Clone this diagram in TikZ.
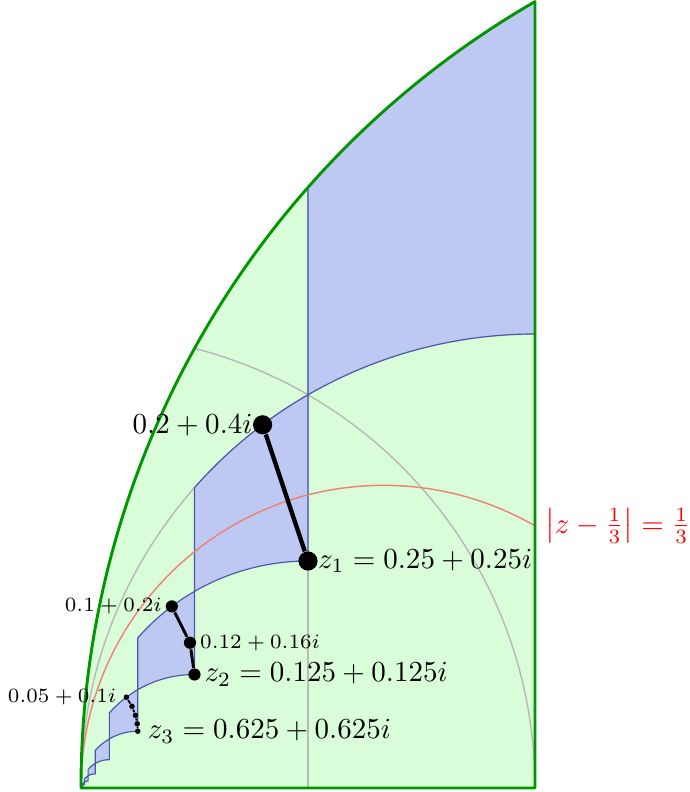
\documentclass[tikz,border=0pt]{standalone}
\usepackage{amsmath}
\usetikzlibrary{positioning}
\definecolor{zonegreen}{RGB}{217,253,216}
\definecolor{rimgreen}{RGB}{0,150,0}
\definecolor{cellblue}{RGB}{189,201,242}
\definecolor{celledge}{RGB}{75,88,170}
\definecolor{circred}{RGB}{238,130,120}
\begin{document}
\begin{tikzpicture}[
    scale=11,
    zone/.style    ={fill=zonegreen},
    rim/.style     ={draw=rimgreen, line width=1pt, line join=round},
    cell/.style    ={fill=cellblue, draw=celledge, line width=0.4pt},
    guide/.style   ={draw=gray!55, line width=0.5pt},
    redarc/.style  ={draw=circred, line width=0.5pt},
    bigdot/.style  ={circle, fill=black, inner sep=0pt, minimum size=6.6pt},
    middot/.style  ={circle, fill=black, inner sep=0pt, minimum size=4.2pt},
    smalldot/.style={circle, fill=black, inner sep=0pt, minimum size=1.9pt},
    bigpath/.style ={line width=1.5pt},
    midpath/.style ={line width=1pt},
    smallpath/.style={line width=0.6pt},
    small/.style   ={font=\fontsize{7.4}{9}\selectfont},
]
\useasboundingbox (-0.0892,-0.0044) rectangle (0.6696,0.8678);
\fill[zone] (0,0) arc[start angle=180, end angle=120, radius=1] -- (0.5,0) -- cycle;
% grey guide lines
\draw[guide] (0.125,{sqrt(15)/8}) arc[start angle=75.52, end angle=0, radius=0.5];
\draw[guide] (0,0) arc[start angle=180, end angle=90, radius=0.5];
\draw[guide] (0.25,0) -- (0.25,0.6614);
% halved copies of the top cell
\foreach \k in {1,...,10}{
  \pgfmathsetmacro{\a}{2^(-\k)}
  \pgfmathsetmacro{\b}{2*\a}
  \filldraw[cell] (\a,\a) arc[start angle=90, end angle=120, radius=\a]
     -- ({\a/2},{\a*sqrt(7)/2}) arc[start angle=138.59, end angle=120, radius=\b] -- cycle;
}
\draw[redarc] (0,0) arc[start angle=180, end angle=60, radius=1/3];
\draw[rim] (0,0) arc[start angle=180, end angle=120, radius=1] -- (0.5,0) -- cycle;
\coordinate (redend) at (0.5,{sqrt(3)/6});
\node[anchor=west, text=red] (redlbl) at (redend) {$\left|z-\frac{1}{3}\right|=\frac{1}{3}$};

\node[bigdot] (a1) at (0.2,0.4) {};
\node[bigdot] (z1) at (0.25,0.25) {};
\node[middot] (a2) at (0.1,0.2) {};
\node[middot] (b2) at (0.12,0.16) {};
\node[middot] (z2) at (0.125,0.125) {};
\node[smalldot] (a3) at (0.05,0.1) {};
\node[smalldot] (b3) at ({5/89},{8/89}) {};
\node[smalldot] (c3) at (0.06,0.08) {};
\node[smalldot] (d3) at ({7/113},{8/113}) {};
\node[smalldot] (z3) at (0.0625,0.0625) {};
\draw[bigpath] (a1) -- (z1);
\draw[midpath] (a2) -- (b2) -- (z2);
\draw[smallpath] (a3) -- (b3) -- (c3) -- (d3) -- (z3);

\node[anchor=east] (a1lbl) at (a1) {$0.2+0.4i$};
\node[anchor=west] (z1lbl) at (z1) {$z_1=0.25+0.25i$};
\node[anchor=east, small] (a2lbl) at (a2) {$0.1+0.2i$};
\node[anchor=west, small] (b2lbl) at (b2) {$0.12+0.16i$};
\node[anchor=west] (z2lbl) at (z2) {$z_2=0.125+0.125i$};
\node[anchor=east, small] (a3lbl) at (a3) {$0.05+0.1i$};
\node[anchor=west] (z3lbl) at (z3) {$z_3=0.625+0.625i$};
\end{tikzpicture}
\end{document}
